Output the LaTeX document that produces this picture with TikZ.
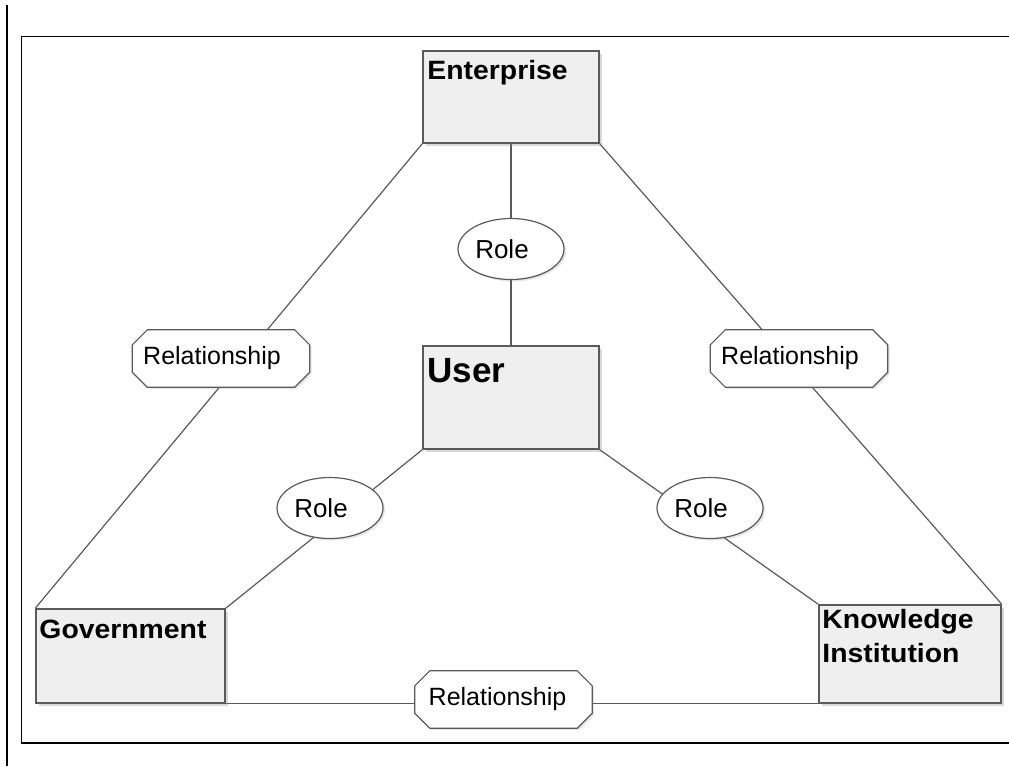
\documentclass[tikz,border=0pt]{standalone}
\usepackage{fontspec}
\setmainfont{Liberation Sans}
\usetikzlibrary{shapes.geometric,shadows}
\definecolor{edgegray}{HTML}{5A5A5A}
\definecolor{boxfill}{HTML}{EFEFEF}
\pgfdeclarelayer{lines}
\pgfdeclarelayer{shapes}
\pgfsetlayers{lines,shapes,main}
\newcommand\widen[1]{\scalebox{1.07}[1]{#1}}
\newcommand\octagonof[1]{%
  \filldraw[octo] ([xshift=15pt]#1.north west) -- ([xshift=-15pt]#1.north east)
    -- ([yshift=-15pt]#1.north east) -- ([yshift=15pt]#1.south east)
    -- ([xshift=-15pt]#1.south east) -- ([xshift=15pt]#1.south west)
    -- ([yshift=15pt]#1.south west) -- ([yshift=-15pt]#1.north west) -- cycle;}
\begin{document}
\begin{tikzpicture}[x=1pt,y=-1pt,
  entity/.style={rectangle, draw=edgegray, line width=1.5pt, fill=boxfill, inner sep=0pt,
    drop shadow={shadow xshift=2.5pt, shadow yshift=-2.5pt, opacity=0.3}},
  title/.style={anchor=base west, inner sep=0pt, font=\bfseries\fontsize{26.5}{32}\selectfont},
  bigtitle/.style={anchor=base west, inner sep=0pt, font=\bfseries\fontsize{35}{42}\selectfont},
  connector/.style={draw=edgegray, line width=1.2pt},
  role/.style={ellipse, draw=edgegray, line width=1.2pt, fill=white, inner sep=0pt,
    minimum width=106pt, minimum height=61pt, font=\fontsize{26}{31}\selectfont,
    drop shadow={shadow xshift=2pt, shadow yshift=-2pt, opacity=0.2}},
  rel/.style={rectangle, inner sep=0pt, minimum width=177pt, minimum height=57pt,
    font=\fontsize{25}{30}\selectfont},
  octo/.style={draw=edgegray, line width=1.2pt, fill=white, line join=miter,
    drop shadow={shadow xshift=2pt, shadow yshift=-2pt, opacity=0.2}},
  frameline/.style={draw=black, line width=1.3pt}
]
\useasboundingbox (0,0) rectangle (1009,766);

% outer frame
\draw[frameline] (1009,36.7) -- (21.3,36.7) -- (21.3,743) -- (1009,743);
\draw[frameline] (7,5) -- (7,766);

% entity boxes
\node[entity, minimum width=176pt, minimum height=92pt] (E) at (511,97) {};
\node[entity, minimum width=176pt, minimum height=103pt] (U) at (511,397.5) {};
\node[entity, minimum width=189pt, minimum height=94pt] (G) at (130.5,656) {};
\node[entity, minimum width=182pt, minimum height=98pt] (K) at (910,654) {};

\node[title] (Et) at ([xshift=5pt, yshift=-29pt]E.north west) {\widen{Enterprise}};
\node[bigtitle] (Ut) at ([xshift=5pt, yshift=-37pt]U.north west) {User};
\node[title] (Gt) at ([xshift=4pt, yshift=-30.5pt]G.north west) {\widen{Government}};
\node[title] (Kt1) at ([xshift=4pt, yshift=-24.5pt]K.north west) {\widen{Knowledge}};
\node[title] (Kt2) at ([xshift=4pt, yshift=-58pt]K.north west) {\widen{Institution}};

% connectors
\begin{pgfonlayer}{lines}
\draw[connector] (E.south west) -- (G.north west);
\draw[connector] (E.south east) -- (K.north east);
\draw[connector] (G.south east) -- (K.south west);
\draw[connector] (E.south) -- (U.north);
\draw[connector] (U.south west) -- (G.north east);
\draw[connector] (U.south east) -- (K.north west);
\end{pgfonlayer}

% labels on connectors
\node[role] (R0) at (511,249) {\hspace*{-18pt}Role};
\node[role] (R1) at (330,508) {\hspace*{-18pt}Role};
\node[role] (R2) at (710,508) {\hspace*{-18pt}Role};

\node[rel] (L1) at (221,358.5) {\hspace*{-18pt}Relationship};
\node[rel] (L2) at (799,358.5) {\hspace*{-18pt}Relationship};
\node[rel] (L3) at (503.5,699.5) {\hspace*{-12pt}Relationship};

\begin{pgfonlayer}{shapes}
\octagonof{L1}
\octagonof{L2}
\octagonof{L3}
\end{pgfonlayer}
\end{tikzpicture}
\end{document}
